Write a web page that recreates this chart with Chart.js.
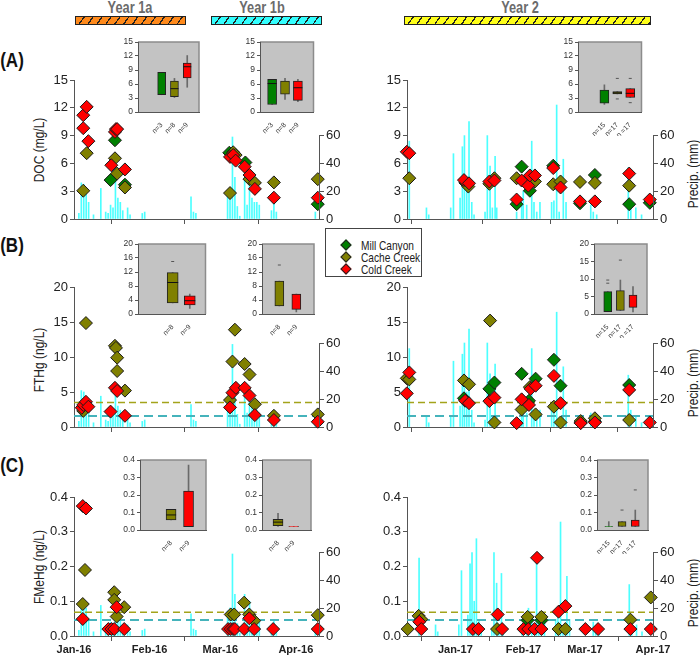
<!DOCTYPE html>
<html>
<head>
<meta charset="utf-8">
<script src="https://cdn.jsdelivr.net/npm/chart.js@4.4.1/dist/chart.umd.min.js"></script>
<style>
  body { margin: 0; background: #fff; }
  #page { position: relative; width: 700px; height: 655px; overflow: hidden; font-family: "Liberation Sans", Arial, sans-serif; }
  canvas { position: absolute; }
  .txt { position: absolute; white-space: nowrap; color: #222; }
  .hdr { font-weight: bold; font-size: 16px; color: #6b6b6b; transform: translate(-50%, -50%) scaleX(0.8); }
  .lbl { font-weight: bold; font-size: 20px; color: #111; transform: translate(-50%, -50%) scaleX(0.85); }
  .vt { font-size: 15px; transform: translate(-50%, -50%) rotate(-90deg) scaleX(0.8); }
  .bar { position: absolute; height: 7px; border: 1px solid #222; }
  #legend { position: absolute; left: 325px; top: 228px; width: 95px; height: 47px; border: 1px solid #444; background: #fff; z-index: 5; }
  .li { position: absolute; left: 35px; font-size: 13px; color: #222; transform: translateY(-50%) scaleX(0.78); transform-origin: left center; white-space: nowrap; }
  .dm { position: absolute; left: 16px; width: 6px; height: 6px; border: 1px solid #222; transform: translateY(-50%) rotate(45deg); }
</style>
</head>
<body>
<div id="page">
  <div class="txt hdr" style="left:130px;top:8px">Year 1a</div>
  <div class="txt hdr" style="left:262px;top:8px">Year 1b</div>
  <div class="txt hdr" style="left:520px;top:8px">Year 2</div>
  <div class="bar" style="left:75px;top:16px;width:109px;background:repeating-linear-gradient(125deg,#ff8a1c 0 6px,#222 6px 7.3px)"></div>
  <div class="bar" style="left:211px;top:16px;width:109px;background:repeating-linear-gradient(125deg,#33ffff 0 6px,#222 6px 7.3px)"></div>
  <div class="bar" style="left:404px;top:16px;width:245px;background:repeating-linear-gradient(125deg,#ffff1a 0 6px,#222 6px 7.3px)"></div>

  <div class="txt lbl" style="left:12px;top:60px">(A)</div>
  <div class="txt lbl" style="left:12px;top:245px">(B)</div>
  <div class="txt lbl" style="left:12px;top:465px">(C)</div>

  <div class="txt vt" style="left:38px;top:150px">DOC (mg/L)</div>
  <div class="txt vt" style="left:38px;top:360px">FTHg (ng/L)</div>
  <div class="txt vt" style="left:38px;top:567px">FMeHg (ng/L)</div>
  <div class="txt vt" style="left:692px;top:174px">Precip. (mm)</div>
  <div class="txt vt" style="left:692px;top:383px">Precip. (mm)</div>
  <div class="txt vt" style="left:692px;top:593px">Precip. (mm)</div>

  <div id="legend">
    <div class="dm" style="top:16px;background:#008000"></div><div class="li" style="top:16px">Mill Canyon</div>
    <div class="dm" style="top:28px;background:#808000"></div><div class="li" style="top:28px">Cache Creek</div>
    <div class="dm" style="top:40px;background:#ff0000"></div><div class="li" style="top:40px">Cold Creek</div>
  </div>
</div>
<script>
// ---- data ----
const creekColors = ['#008000', '#808000', '#ff0000'];

// x axis: days since 1 Jan of the year
const monthDays16 = [0, 31, 60, 91];
const monthNames16 = ['Jan-16', 'Feb-16', 'Mar-16', 'Apr-16'];
const monthDays17 = [0, 31, 59, 90];
const monthNames17 = ['Jan-17', 'Feb-17', 'Mar-17', 'Apr-17'];

const docTicks = [0, 3, 6, 9, 12, 15];
const thgTicks = [0, 5, 10, 15, 20];
const mehgTicks = [0, 0.1, 0.2, 0.3, 0.4];
const precipTicks = [0, 20, 40, 60];

// daily precipitation [day, mm]
const precip16 = [[2,4],[3,26],[4,25],[5,20],[6,12],[8,3],[11,22],[13,5],[14,4],[15,10],[16,8],[17,28],
  [18,15],[19,12],[20,6],[22,8],[23,3],[28,4],[29,5],[48,16],[49,5],[50,4],[63,18],[64,20],[65,59],
  [66,30],[67,9],[68,2],[70,30],[71,10],[72,25],[73,15],[74,12],[75,12],[76,10],[81,6],[82,12],[83,5],[99,5]];
const precip17 = [[-16.5,56],[-9,8],[-8,3],[1.6,8],[2.8,47],[5.7,15],[6.7,52],[7.6,60],[8.6,25],[9.6,70],
  [10.8,12],[11.8,3],[16.6,5],[17.6,60],[18.8,38],[19.8,8],[21,45],[21.7,8],[30.4,5],[32.6,10],[33.3,20],
  [34.8,10],[37,56],[38,12],[39.2,5],[40.6,12],[45.7,12],[46.7,13],[47.9,82],[49,5],[50.8,43],[52,12],
  [62.8,10],[63.9,5],[65.4,3],[79.2,37],[80.3,12],[82.5,8],[85,3]];

// DOC (mg/L) [day, value]
const docMill16 = [[15,4.2],[16.8,8.5],[20.9,3.7],[63.7,7.15],[70.3,6.1],[100,1.6]];
const docCache16 = [[3.8,3.05],[5.2,7.1],[16.8,6.55],[17.7,4.9],[20.9,3.4],[64,2.8],[65.3,7.2],[66.3,6.9],
  [72,4.3],[74.2,3.9],[82,3.95],[100,4.3]];
const docCold16 = [[3.8,11.2],[5.2,12.1],[3.8,9.8],[5.9,8.4],[15.3,5.8],[16.8,9.4],[17.2,9.7],[17.7,9.7],
  [20.9,5.35],[64,6.7],[65.3,6.9],[66.3,6.3],[70,5.65],[72,4.75],[74.2,3.25],[82,2.3],[100,2.3]];
const docMill17 = [[8,3.9],[32.6,5.65],[30.4,1.6],[36.2,3.05],[46.4,5.75],[58.1,1.7],[64.6,4.75],[79.6,1.6],[88.6,1.75]];
const docCache17 = [[-16.5,4.4],[8.6,3.8],[9.3,3.5],[18.5,3.8],[20.7,4.4],[30.4,4.4],[36.2,4.3],[38.4,4.05],
  [46.4,3.75],[49.6,4.05],[58.1,4.0],[64.6,3.9],[79.6,3.6]];
const docCold17 = [[-17.6,7.25],[-16.5,7.1],[7.4,4.2],[9.6,3.85],[18.5,4.05],[20.7,4.15],[30.4,2.1],[32.6,4.15],
  [35.5,3.6],[36.2,4.7],[38.4,4.7],[46.4,5.5],[49.6,3.4],[58.1,1.9],[64.6,1.9],[79.6,4.9],[88.6,2.1]];

// FTHg (ng/L)
const thgMill16 = [];
const thgCache16 = [[3.8,2.3],[4.9,14.85],[16.8,11.6],[17.2,11.3],[17.7,9.9],[17.7,8.0],[20.9,5.2],[64,3.85],
  [65,9.35],[66,13.9],[70,9.0],[72,7.5],[74.2,3.25],[82,1.6],[100,1.8]];
const thgCold16 = [[3.2,2.75],[3.8,3.15],[4.9,3.6],[5.9,2.9],[15,2.2],[16.8,5.6],[17.7,5.15],[20.9,1.6],[64,2.8],
  [65,4.9],[66.4,5.6],[70,5.6],[72,4.5],[74.2,1.7],[82,1.0],[100,0.75]];
const thgMill17 = [[7.4,4.1],[18.5,5.45],[20.7,6.35],[32.6,7.6],[35.8,3.75],[38.7,6.9],[46.7,9.6],[49.6,5.9],
  [58.4,0.6],[64.6,0.8],[79.6,6.0]];
const thgCache17 = [[-17.6,6.95],[-16.5,6.8],[7.4,6.65],[9.6,6.1],[18.8,15.2],[20.7,0.65],[32.6,2.5],[36.2,5.7],
  [38.7,1.8],[46.7,2.9],[49.6,0.65],[58.4,0.85],[64.6,1.25],[79.6,1.0]];
const thgCold17 = [[-17.6,4.8],[-16.5,7.8],[7.9,3.75],[9.6,3.4],[18.5,3.7],[20.7,4.2],[30.4,0.55],[32.6,3.95],
  [35.8,3.15],[36.5,5.45],[38.7,5.9],[46.7,7.3],[49.6,3.4],[58.4,0.55],[64.6,0.65],[79.6,5.3],[88.6,0.65]];
const thgRefLines = [3.5, 1.57];

// FMeHg (ng/L)
const mehgMill16 = [];
const mehgCache16 = [[3.6,0.092],[4.5,0.19],[16.5,0.126],[16.5,0.104],[17.5,0.056],[20.6,0.083],[64.3,0.062],
  [65.7,0.062],[69.8,0.096],[71.9,0.062],[73.9,0.044],[100,0.06]];
const mehgCold16 = [[3.6,0.374],[4.9,0.367],[3.6,0.049],[14.1,0.02],[15.4,0.02],[16.5,0.02],[17.5,0.083],
  [20.6,0.02],[63.2,0.02],[64.3,0.02],[65.3,0.02],[66,0.02],[69.8,0.02],[71.9,0.051],[73.9,0.02],[81.7,0.02],[100,0.02]];
const mehgMill17 = [[32.9,0.045],[39.2,0.045]];
const mehgCache17 = [[-21.7,0.02],[-16.7,0.058],[-15.5,0.048],[19,0.02],[32.9,0.055],[39.2,0.055],[47,0.02],
  [50.1,0.02],[79.7,0.047],[89,0.111]];
const mehgCold17 = [[-16.4,0.041],[-15.5,0.02],[8,0.02],[10.5,0.02],[19.3,0.062],[21.3,0.02],[31,0.02],[33.2,0.02],
  [36.1,0.02],[37.2,0.225],[39.2,0.02],[47,0.07],[50.1,0.086],[59.2,0.02],[65,0.02],[79.7,0.02],[89,0.02]];
const mehgRefLines = [0.068, 0.046];

// box summaries: [label, creek, low whisker, q1, median, q3, high whisker, outliers]
const docBox1a = [['n=3',0,null,3.7,null,8.5,null,[]], ['n=8',1,3.1,3.3,5.0,6.6,7.2,[]], ['n=9',2,5.3,7.3,9.7,10.5,12.1,[]]];
const docBox1b = [['n=3',0,null,1.6,6.1,7.0,null,[]], ['n=8',1,2.7,3.8,null,6.6,7.2,[]], ['n=9',2,2.2,2.5,5.2,6.6,7.0,[]]];
const docBox2 = [['n=15',0,1.6,1.9,null,4.7,5.8,[]], ['n=17',1,null,3.9,4.1,4.4,null,[7.2,2.8]], ['n =17',2,null,3.1,4.0,5.0,null,[7.2,2.0]]];
const thgBox1a = [['n=8',1,null,3.2,9.0,11.8,null,[15]], ['n=9',2,1.6,2.6,3.8,5.2,5.7,[]]];
const thgBox1b = [['n=8',1,null,2.3,null,9.4,null,[14]], ['n=9',2,0.6,1.3,null,5.7,null,[]]];
const thgBox2 = [['n=15',0,null,0.7,null,6.4,null,[9.7,8.8]], ['n=17',1,null,1.0,null,6.7,9.7,[15.4]], ['n =17',2,0.6,1.9,null,5.4,7.8,[]]];
const mehgBox1a = [['n=8',1,null,0.057,0.086,0.118,null,[]], ['n=9',2,null,0.019,null,0.223,0.371,[]]];
const mehgBox1b = [['n=8',1,0.02,0.025,0.045,0.061,0.095,[]], ['n=9',2,null,0.02,null,0.021,null,[]]];
const mehgBox2 = [['n=15',0,null,0.02,null,0.021,0.048,[]], ['n=17',1,null,0.02,null,0.048,null,[0.114]], ['n =17',2,null,0.02,null,0.057,0.114,[0.229]]];

// ---- drawing ----
Chart.defaults.font.family = "'Liberation Sans', Arial, sans-serif";
Chart.defaults.color = '#222';
Chart.defaults.animation = false;
Chart.defaults.events = [];
Chart.defaults.plugins.legend.display = false;
Chart.defaults.plugins.tooltip.enabled = false;

const page = document.getElementById('page');
const pts = arr => arr.map(([x, y]) => ({ x, y }));

function addCanvas(left, top, w, h, z) {
  const cv = document.createElement('canvas');
  cv.width = w; cv.height = h;
  cv.style.left = left + 'px'; cv.style.top = top + 'px';
  cv.style.width = w + 'px'; cv.style.height = h + 'px';
  cv.style.zIndex = z;
  page.appendChild(cv);
  return cv;
}

// right axis line only runs up to 60 mm
const precipAxis = {
  id: 'precipAxis',
  afterDraw(c) {
    const s = c.scales.y2, ctx = c.ctx, x = Math.round(s.left) + 0.5;
    ctx.save();
    ctx.strokeStyle = '#555'; ctx.lineWidth = 1;
    ctx.beginPath();
    ctx.moveTo(x, s.getPixelForValue(0)); ctx.lineTo(x, s.getPixelForValue(60));
    ctx.stroke(); ctx.restore();
  }
};

const insetFrame = {
  id: 'insetFrame',
  beforeDraw(c) {
    const a = c.chartArea, ctx = c.ctx;
    ctx.save();
    ctx.fillStyle = '#c3c3c3';
    ctx.fillRect(a.left, a.top, a.right - a.left, a.bottom - a.top);
    ctx.strokeStyle = '#8c8c8c'; ctx.lineWidth = 1.5;
    ctx.beginPath(); ctx.moveTo(a.left, a.top); ctx.lineTo(a.right, a.top); ctx.lineTo(a.right, a.bottom); ctx.stroke();
    ctx.restore();
  }
};

function panel(area, o) {
  const [l, t, r, b] = area;
  const cv = addCanvas(l - 40, t - 10, r - l + 70, b - t + 34, 1);
  const datasets = [];
  o.series.forEach((s, i) => datasets.push({
    type: 'scatter', data: pts(s), pointStyle: 'rectRot', pointRadius: 6.5,
    pointBackgroundColor: creekColors[i], pointBorderColor: '#1a1a1a', pointBorderWidth: 1,
    clip: false, order: 3 - i
  }));
  (o.refLines || []).forEach((v, i) => datasets.push({
    type: 'line', data: [{ x: o.xMin, y: v }, { x: o.xMax, y: v }],
    borderColor: i === 0 ? '#a3a31a' : '#45b3bb', borderWidth: i === 0 ? 1.5 : 2,
    borderDash: i === 0 ? [7, 4] : [9, 5], pointRadius: 0, fill: false, order: 10
  }));
  datasets.push({
    type: 'bar', yAxisID: 'y2', data: pts(o.precip), backgroundColor: 'rgba(0,255,255,0.7)',
    barThickness: 1, grouped: false, order: 20
  });
  new Chart(cv, {
    type: 'scatter',
    data: { datasets },
    options: {
      responsive: false,
      layout: { padding: { top: 10, left: 0, right: 0, bottom: 0 } },
      scales: {
        x: {
          type: 'linear', min: o.xMin, max: o.xMax, offset: false,
          afterBuildTicks: s => { s.ticks = o.months.map(v => ({ value: v })); },
          ticks: { display: o.xLabels, autoSkip: false, maxRotation: 0, padding: 2,
            font: { size: 11, weight: 'bold' }, callback: (v, i) => o.monthNames[i] },
          grid: { drawOnChartArea: false, tickLength: 5, color: '#555' },
          border: { color: '#555' },
          afterFit: s => { s.height = 24; }
        },
        y: {
          min: 0, max: o.yTicks[o.yTicks.length - 1],
          afterBuildTicks: s => { s.ticks = o.yTicks.map(v => ({ value: v })); },
          ticks: { font: { size: 13 }, padding: 2, callback: v => o.dec ? v.toFixed(o.dec) : v },
          grid: { drawOnChartArea: false, tickLength: 4, color: '#555' },
          border: { color: '#555' },
          afterFit: s => { s.width = 40; }
        },
        y2: {
          position: 'right', min: 0, max: 100,
          afterBuildTicks: s => { s.ticks = precipTicks.map(v => ({ value: v })); },
          ticks: { font: { size: 13 }, padding: 2 },
          grid: { drawOnChartArea: false, tickLength: 5, color: '#555' },
          border: { display: false },
          afterFit: s => { s.width = 30; }
        }
      }
    },
    plugins: [precipAxis]
  });
}

function inset(area, rows, yTicks, xRange, boxW, dec) {
  const [l, t, r, b] = area;
  const cv = addCanvas(l - 24, t - 8, r - l + 28, b - t + 32, 3);
  const whiskers = rows.map((w, i) => ({ x: i + 1, y: [w[2] ?? w[3], w[6] ?? w[5]] }));
  const boxes = rows.map((w, i) => ({ x: i + 1, y: [w[3], w[5]] }));
  const medians = rows.flatMap((w, i) => w[4] == null ? [] : [{ x: i + 1, y: w[4] }]);
  const outliers = rows.flatMap((w, i) => w[7].map(v => ({ x: i + 1, y: v })));
  new Chart(cv, {
    type: 'scatter',
    data: {
      datasets: [
        { type: 'bar', data: whiskers, backgroundColor: '#6a6a6a', barThickness: 1, grouped: false, order: 4 },
        { type: 'bar', data: boxes, backgroundColor: rows.map(w => creekColors[w[1]]), borderColor: '#222',
          borderWidth: 1, borderSkipped: false, barThickness: boxW, grouped: false, order: 3 },
        { type: 'scatter', data: medians, pointStyle: 'line', pointRadius: boxW / 2, pointBorderColor: '#111',
          pointBorderWidth: 1, clip: false, order: 2 },
        { type: 'scatter', data: outliers, pointStyle: 'line', pointRadius: 1.5, pointBorderColor: '#555',
          pointBorderWidth: 1, clip: false, order: 1 }
      ]
    },
    options: {
      responsive: false,
      layout: { padding: { top: 8, right: 4, left: 0, bottom: 0 } },
      scales: {
        x: {
          type: 'linear', min: xRange[0], max: xRange[1], offset: false,
          afterBuildTicks: s => { s.ticks = rows.map((w, i) => ({ value: i + 1 })); },
          ticks: { autoSkip: false, minRotation: 45, maxRotation: 45, padding: 1,
            font: { size: 7 }, color: '#333', callback: (v, i) => rows[i][0] },
          grid: { display: false },
          border: { color: '#555' },
          afterFit: s => { s.height = 24; }
        },
        y: {
          min: 0, max: yTicks[yTicks.length - 1],
          afterBuildTicks: s => { s.ticks = yTicks.map(v => ({ value: v })); },
          ticks: { font: { size: 8.5 }, color: '#333', padding: 2, callback: v => dec ? v.toFixed(dec) : v },
          grid: { drawOnChartArea: false, tickLength: 3, color: '#555' },
          border: { color: '#555' },
          afterFit: s => { s.width = 24; }
        }
      }
    },
    plugins: [insetFrame]
  });
}

const left16 = { xMin: 0, xMax: 100.5, months: monthDays16, monthNames: monthNames16, precip: precip16 };
const right17 = { xMin: -17.5, xMax: 90, months: monthDays17, monthNames: monthNames17, precip: precip17 };

panel([74, 80, 319, 219], { ...left16, series: [docMill16, docCache16, docCold16], yTicks: docTicks, xLabels: false });
panel([407, 80, 653, 219], { ...right17, series: [docMill17, docCache17, docCold17], yTicks: docTicks, xLabels: false });
panel([74, 287, 319, 427], { ...left16, series: [thgMill16, thgCache16, thgCold16], yTicks: thgTicks, refLines: thgRefLines, xLabels: false });
panel([407, 287, 653, 427], { ...right17, series: [thgMill17, thgCache17, thgCold17], yTicks: thgTicks, refLines: thgRefLines, xLabels: false });
panel([74, 497, 319, 636], { ...left16, series: [mehgMill16, mehgCache16, mehgCold16], yTicks: mehgTicks, refLines: mehgRefLines, dec: 1, xLabels: true });
panel([407, 497, 653, 636], { ...right17, xMin: -22, series: [mehgMill17, mehgCache17, mehgCold17], yTicks: mehgTicks, refLines: mehgRefLines, dec: 1, xLabels: true });

inset([138, 42, 200, 112], docBox1a, docTicks, [-0.85, 3.92], 8);
inset([260, 42, 315, 112], docBox1b, docTicks, [0.06, 4.21], 9);
inset([578, 42, 643, 112], docBox2, docTicks, [-1.04, 3.87], 9);
inset([138, 244, 208, 314], thgBox1a, [0, 4, 8, 12, 16, 20], [-1.03, 2.92], 11);
inset([262, 244, 315, 314], thgBox1b, [0, 4, 8, 12, 16, 20], [-0.02, 3.04], 9);
inset([594, 244, 648, 314], thgBox2, [0, 5, 10, 15, 20], [-0.09, 4.11], 8);
inset([140, 460, 208, 530], mehgBox1a, mehgTicks, [-0.78, 3.0], 10, 1);
inset([262, 460, 313, 530], mehgBox1b, mehgTicks, [-0.02, 3.1], 10, 1);
inset([597, 460, 649, 530], mehgBox2, mehgTicks, [0.11, 3.96], 8, 1);
</script>
</body>
</html>
